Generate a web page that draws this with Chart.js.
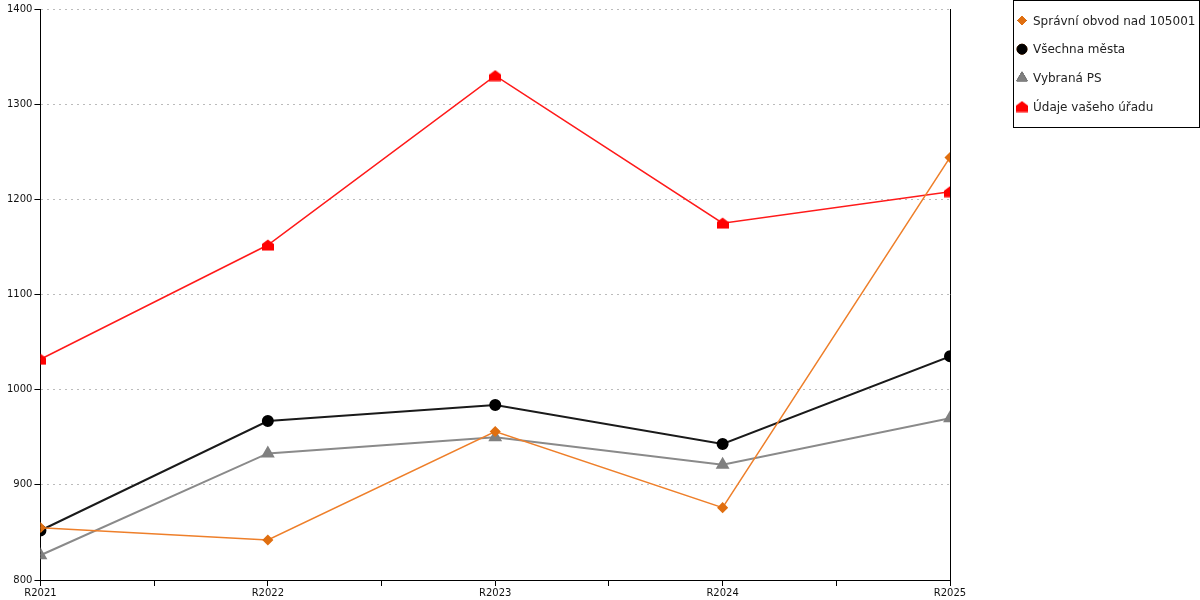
<!DOCTYPE html>
<html>
<head>
<meta charset="utf-8">
<script src="https://cdn.jsdelivr.net/npm/chart.js@4/dist/chart.umd.min.js"></script>
<style>
  html, body { margin: 0; padding: 0; background: #fff; }
  #wrap { width: 1200px; height: 600px; }
</style>
</head>
<body>
<div id="wrap"><canvas id="myChart" width="1200" height="600"></canvas></div>
<script>
// categories and values
var years = ['R2021', 'R2022', 'R2023', 'R2024', 'R2025'];
var spravniObvod = [855, 842, 956, 876, 1244];
var vsechnaMesta = [852, 967, 984, 943, 1035];
var vybranaPS = [826, 933, 950, 921, 970];
var udajeUradu = [1032, 1152, 1330, 1175, 1208];
var yTicks = [800, 900, 1000, 1100, 1200, 1300, 1400];

function toPoints(arr) {
    return arr.map(function (v, i) { return { x: i, y: v }; });
}

// red "house" marker
var house = document.createElement('canvas');
house.width = 12;
house.height = 12;
var hc = house.getContext('2d');
hc.fillStyle = '#ff0000';
hc.beginPath();
hc.moveTo(6, 0.5);
hc.lineTo(12, 5);
hc.lineTo(12, 11.5);
hc.lineTo(0, 11.5);
hc.lineTo(0, 5);
hc.closePath();
hc.fill();

// legend box + right border line
var extras = {
    id: 'extras',
    afterDraw: function (chart) {
        var ctx = chart.ctx;
        var area = chart.chartArea;
        ctx.save();
        ctx.strokeStyle = '#000';
        ctx.lineWidth = 1;
        ctx.beginPath();
        ctx.moveTo(Math.round(area.right) + 0.5, area.top);
        ctx.lineTo(Math.round(area.right) + 0.5, area.bottom);
        ctx.stroke();

        ctx.fillStyle = '#fff';
        ctx.fillRect(1013.5, 0.5, 186, 127);
        ctx.strokeRect(1013.5, 0.5, 186, 127);

        ctx.font = '12px "DejaVu Sans"';
        ctx.textBaseline = 'middle';
        chart.data.datasets.forEach(function (ds, i) {
            var y = 20.5 + i * 28.7;
            Chart.helpers.drawPoint(ctx, {
                pointStyle: ds.pointStyle,
                radius: ds.pointRadius,
                rotation: 0,
                borderWidth: 1
            }, 1022, y);
            ctx.fillStyle = ds.pointBackgroundColor;
            ctx.strokeStyle = ds.pointBorderColor;
            if (ds.pointStyle !== house) {
                ctx.fill();
                ctx.stroke();
            }
            ctx.fillStyle = '#222';
            ctx.fillText(ds.label, 1033, y + 1);
        });
        ctx.restore();
    }
};

var ctx = document.getElementById('myChart');
var chart = new Chart(ctx, {
    type: 'line',
    data: {
        datasets: [{
            label: 'Správní obvod nad 105001',
            data: toPoints(spravniObvod),
            borderColor: '#ee7f2a',
            borderWidth: 1.5,
            pointStyle: 'rectRot',
            pointRadius: 4.5,
            pointBackgroundColor: '#e06f10',
            pointBorderColor: '#e06f10'
        }, {
            label: 'Všechna města',
            data: toPoints(vsechnaMesta),
            borderColor: '#1a1a1a',
            borderWidth: 2,
            pointStyle: 'circle',
            pointRadius: 5,
            pointBackgroundColor: '#000',
            pointBorderColor: '#000'
        }, {
            label: 'Vybraná PS',
            data: toPoints(vybranaPS),
            borderColor: '#8a8a8a',
            borderWidth: 2,
            pointStyle: 'triangle',
            pointRadius: 6,
            pointBackgroundColor: '#808080',
            pointBorderColor: '#808080'
        }, {
            label: 'Údaje vašeho úřadu',
            data: toPoints(udajeUradu),
            borderColor: '#ff1a1a',
            borderWidth: 1.5,
            pointStyle: house,
            pointRadius: 6,
            pointBackgroundColor: '#ff0000',
            pointBorderColor: '#ff0000'
        }]
    },
    options: {
        responsive: false,
        animation: false,
        layout: { padding: { left: 5, right: 250, top: 9, bottom: 0 } },
        elements: { line: { tension: 0 } },
        plugins: {
            legend: { display: false },
            tooltip: { enabled: false }
        },
        scales: {
            x: {
                type: 'linear',
                min: 0,
                max: years.length - 1,
                ticks: {
                    stepSize: 0.5,
                    autoSkip: false,
                    maxRotation: 0,
                    color: '#111',
                    padding: 1,
                    font: { family: 'DejaVu Sans', size: 10 },
                    callback: function (v) { return Number.isInteger(v) ? years[v] : ''; }
                },
                grid: { drawOnChartArea: false, tickLength: 6, color: '#000' },
                border: { color: '#000' }
            },
            y: {
                min: yTicks[0],
                max: yTicks[yTicks.length - 1],
                afterBuildTicks: function (axis) {
                    axis.ticks = yTicks.map(function (v) { return { value: v }; });
                },
                ticks: {
                    color: '#111',
                    padding: 2,
                    font: { family: 'DejaVu Sans', size: 10 },
                    callback: function (v) { return String(v); }
                },
                grid: {
                    color: '#bbb',
                    tickColor: '#000',
                    tickLength: 6,
                    drawTicks: true
                },
                border: { color: '#000', dash: [2, 4] }
            }
        }
    },
    plugins: [extras]
});
</script>
</body>
</html>
